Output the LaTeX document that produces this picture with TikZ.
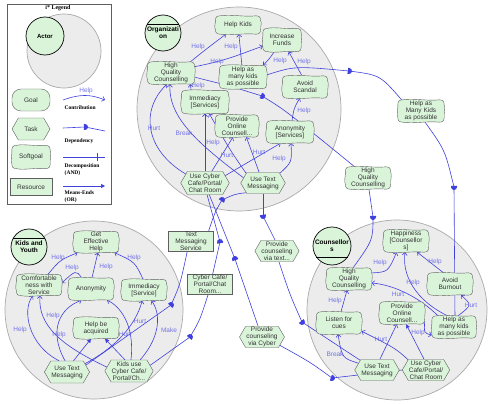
\documentclass[tikz,border=0pt]{standalone}
\usepackage{fontspec}
\setmainfont{Liberation Serif}
\setsansfont{Liberation Sans}
\usetikzlibrary{arrows.meta,shapes.symbols,calc}

\definecolor{goalfill}{RGB}{218,244,218}
\definecolor{nodeline}{RGB}{95,95,95}
\definecolor{actorfill}{RGB}{236,236,236}
\definecolor{actorline}{RGB}{170,170,170}
\definecolor{linkcol}{RGB}{64,64,222}
\definecolor{labelcol}{RGB}{115,115,232}

\pgfdeclarelayer{bound}
\pgfdeclarelayer{links}
\pgfdeclarelayer{shapes}
\pgfsetlayers{bound,links,shapes,main}

\tikzset{
  every node/.style={font=\sffamily\fontsize{6.5}{7}\selectfont, text=black!80, align=center, inner sep=0.5pt},
  boundary/.style={circle, fill=actorfill, draw=actorline, line width=0.7pt},
  actor/.style={circle, fill=goalfill, draw=black, line width=0.7pt, minimum size=#1,
    font=\sffamily\bfseries\fontsize{6.5}{7}\selectfont, text=black},
  soft/.style={rectangle, minimum width=45pt, minimum height=22pt},
  goal/.style={rectangle, rounded corners=9pt, fill=goalfill, draw=nodeline, line width=0.4pt,
    minimum width=45pt, minimum height=22pt},
  task/.style={signal, signal to=west and east, signal pointer angle=120, fill=goalfill,
    draw=nodeline, line width=0.4pt, minimum width=44pt, minimum height=22pt},
  resource/.style={rectangle, fill=goalfill, draw=nodeline, line width=0.4pt,
    minimum width=45pt, minimum height=20pt},
  legtext/.style={font=\rmfamily\bfseries\fontsize{5.5}{7}\selectfont, text=black, align=left, anchor=west},
  link/.style={draw=linkcol, line width=0.6pt},
  contrib/.style={link, -{Straight Barb[length=2.5pt,width=5pt]}},
  meansend/.style={link, -{Triangle[length=4pt,width=4pt]}},
  lbl/.style={text=labelcol},
  dmark/.pic={\fill[linkcol] (-1.2pt,-3pt) -- (0,-3pt) arc (-90:90:3pt) -- (-1.2pt,3pt) -- cycle;}
}

\begin{document}
\begin{tikzpicture}[x=1pt, y=-1pt]
\useasboundingbox (0,0) rectangle (491,404);

% actor boundaries
\begin{pgfonlayer}{bound}
  \fill[white] (0,0) rectangle (491,404);
  \draw[nodeline, line width=0.5pt] (7,4) rectangle (111,204);
  \node[boundary, minimum size=74pt] (legBound) at (64,51) {};
  \node[boundary, minimum size=204pt] (orgBound) at (239,109) {};
  \node[boundary, minimum size=178pt] (kidsBound) at (94,310) {};
  \node[boundary, minimum size=180pt] (couBound) at (397,310) {};
\end{pgfonlayer}

% legend
\node[font=\rmfamily\bfseries\fontsize{6}{7}\selectfont, text=black] (legTitle) at (58,8) {i* Legend};
\node[actor=38pt, font=\sffamily\bfseries\fontsize{6}{7}\selectfont] (legActor) at (45,36) {Actor};
\node[goal, minimum width=38pt] (legGoal) at (31,100) {Goal};
\node[task, minimum width=38pt] (legTask) at (31,129) {Task};
\node[soft, minimum width=38pt, minimum height=23pt] (legSoft) at (31,157) {Softgoal};
\node[resource, minimum width=42pt, minimum height=17pt] (legRes) at (31,187) {Resource};
\node[legtext] (legContrib) at (64,108) {Contribution};
\node[legtext] (legDep) at (64,141) {Dependency};
\node[legtext] (legDecomp) at (64,170) {Decomposition\\(AND)};
\node[legtext] (legMeans) at (64,197) {Means-Ends\\(OR)};

% organization
\node[actor=36pt] (orgActor) at (163,33) {Organizati\\on};
\draw[black, line width=0.6pt] (orgActor.150) -- (orgActor.30);
\node[soft, minimum height=18pt] (orgKids) at (238,25) {Help Kids};
\node[soft, minimum width=38pt, minimum height=23pt] (orgFunds) at (282,40) {Increase\\Funds};
\node[soft, minimum width=47pt] (orgHQC) at (171,73) {High\\Quality\\Counselling};
\node[soft, minimum width=47pt, minimum height=23pt] (orgMany) at (243,77) {Help as\\many kids\\as possible};
\node[soft] (orgScandal) at (305,87) {Avoid\\Scandal};
\node[soft, minimum width=47pt, minimum height=23pt] (orgImm) at (205,102) {Immediacy\\{[Services]}};
\node[soft, minimum width=43pt] (orgOnline) at (237,126) {Provide\\Online\\Counsell...};
\node[soft, minimum width=47pt] (orgAnon) at (290,132) {Anonymity\\{[Services]}};
\node[task, minimum height=23pt] (orgCyber) at (205,183) {Use Cyber\\Cafe/Portal/\\Chat Room};
\node[task, minimum width=43pt, minimum height=21pt] (orgText) at (263,183) {Use Text\\Messaging};

% dependums
\node[soft, minimum width=46pt] (extMany) at (421,111) {Help as\\Many Kids\\as possible};
\node[soft] (extHQC) at (368,178) {High\\Quality\\Counselling};
\node[resource] (resText) at (191,241) {Text\\Messaging\\Service};
\node[resource] (resCyber) at (210,284) {Cyber Cafe/\\Portal/Chat\\Room...};
\node[task, minimum height=21pt] (tskViaText) at (277,251) {Provide\\counseling\\via text...};
\node[task, minimum width=45pt, minimum height=21pt] (tskViaCyber) at (262,337) {Provide\\counseling\\via Cyber};

% kids and youth
\node[actor=36pt] (kidsActor) at (29,247) {Kids and\\Youth};
\draw[black, line width=0.6pt] (kidsActor.150) -- (kidsActor.30);
\node[soft, minimum height=21pt] (kidsGet) at (96,242) {Get\\Effective\\Help};
\node[soft, minimum height=21pt] (kidsComfort) at (39,285) {Comfortable\\ness with\\Service};
\node[soft] (kidsAnon) at (91,289) {Anonymity};
\node[soft, minimum height=21pt] (kidsImm) at (144,290) {Immediacy\\{[Service]}};
\node[soft, minimum height=21pt] (kidsAcq) at (96,328) {Help be\\acquired};
\node[task, minimum width=45pt] (kidsText) at (67,372) {Use Text\\Messaging};
\node[task] (kidsCyber) at (129,371) {Kids use\\Cyber Cafe/\\Portal/Ch...};

% counsellors
\node[actor=38pt] (couActor) at (332,246) {Counsellor\\s};
\draw[black, line width=0.6pt] (couActor.-145) -- (couActor.-35);
\node[soft] (couHappy) at (406,241) {Happiness\\{[Counsellor}\\s]};
\node[soft] (couHQC) at (349,279) {High\\Quality\\Counselling};
\node[soft] (couBurn) at (450,284) {Avoid\\Burnout};
\node[soft] (couOnline) at (402,313) {Provide\\Online\\Counsell...};
\node[soft] (couCues) at (339,323) {Listen for\\cues};
\node[soft, minimum width=44pt] (couMany) at (454,327) {Help as\\many kids\\as possible};
\node[task, minimum width=43pt, minimum height=21pt] (couText) at (377,370) {Use Text\\Messaging};
\node[task, minimum width=43pt, minimum height=21pt] (couCyber) at (426,370) {Use Cyber\\Cafe/Portal/\\Chat Room};

% softgoal outlines
\begin{pgfonlayer}{shapes}
\foreach \n in {legSoft,orgKids,orgFunds,orgHQC,orgMany,orgScandal,orgImm,orgOnline,orgAnon,
    extMany,extHQC,kidsGet,kidsComfort,kidsAnon,kidsImm,kidsAcq,
    couHappy,couHQC,couBurn,couOnline,couCues,couMany}
  \draw[nodeline, fill=goalfill, line width=0.4pt]
    ($(\n.north west)+(0,-5pt)$)
    .. controls ($(\n.north west)+(0,-1.5pt)$) and ($(\n.north west)+(1.5pt,0)$) .. ($(\n.north west)+(5pt,0)$)
    .. controls ($(\n.north)+(-8pt,1.8pt)$) and ($(\n.north)+(8pt,-1.5pt)$) .. ($(\n.north east)+(-5pt,0)$)
    .. controls ($(\n.north east)+(-1.5pt,0)$) and ($(\n.north east)+(0,-1.5pt)$) .. ($(\n.north east)+(0,-5pt)$)
    .. controls ($(\n.east)+(1.5pt,2.5pt)$) and ($(\n.east)+(-0.5pt,-2.5pt)$) .. ($(\n.south east)+(0,5pt)$)
    .. controls ($(\n.south east)+(0,1.5pt)$) and ($(\n.south east)+(-1.5pt,0)$) .. ($(\n.south east)+(-5pt,0)$)
    .. controls ($(\n.south)+(8pt,1.5pt)$) and ($(\n.south)+(-8pt,-1.8pt)$) .. ($(\n.south west)+(5pt,0)$)
    .. controls ($(\n.south west)+(1.5pt,0)$) and ($(\n.south west)+(0,1.5pt)$) .. ($(\n.south west)+(0,5pt)$)
    .. controls ($(\n.west)+(-1.5pt,-2.5pt)$) and ($(\n.west)+(0.5pt,2.5pt)$) .. cycle;
\end{pgfonlayer}

% dependency points
\coordinate (dA) at (349,71);
\coordinate (dB) at (262,96);
\coordinate (dC) at (373,217);
\coordinate (dD) at (454,187);
\coordinate (dE) at (222,200);
\coordinate (dK) at (171,305);
\coordinate (dL) at (220,242);
\coordinate (dJ) at (190,337);
\coordinate (dF) at (263,216);
\coordinate (dG) at (302,322);
\coordinate (dH) at (235,259);
\coordinate (dI) at (332,378);

\begin{pgfonlayer}{links}
% legend samples
\coordinate (lgA) at (63,100); \coordinate (lgB) at (105,100);
\draw[contrib] (lgA) .. controls (80,94) and (90,94) .. (lgB) node[lbl] at (86,91) {Help};
\coordinate (lgC) at (63,128); \coordinate (lgD) at (85,127); \coordinate (lgE) at (105,131);
\draw[link] (lgC) -- (lgD) -- (lgE);
\pic at (lgD) {dmark};
\coordinate (lgF) at (63,157); \coordinate (lgG) at (105,157);
\draw[link] (lgF) -- (lgG) ($(lgG)+(-8,-4)$) -- ($(lgG)+(-8,4)$);
\coordinate (lgH) at (63,186); \coordinate (lgI) at (105,186);
\draw[meansend] (lgH) -- (lgI);

% organization links
\draw[contrib] (orgHQC.30) .. controls (205,50) .. (orgKids) node[lbl] at (198,47) {Help};
\draw[contrib] (orgMany) -- (orgKids) node[lbl] at (231,47) {Help};
\draw[contrib] (orgHQC.15) .. controls (230,60) and (245,52) .. (orgFunds) node[lbl] at (217,62) {Help};
\draw[contrib] (orgFunds) .. controls (270,58) .. (orgMany.30) node[lbl] at (280,61) {Help};
\draw[contrib] (orgImm.140) -- (orgHQC.-30) node[lbl] at (198,86) {Help};
\draw[contrib] (orgAnon.80) .. controls (294,108) .. (orgScandal.-115) node[lbl] at (304,111) {Help};
\draw[contrib] (orgScandal.105) -- (orgFunds.-60) node[lbl] at (304,62) {Help};
\draw[contrib] (orgCyber.155) .. controls (145,150) and (140,110) .. (orgHQC.-110) node[lbl] at (154,128) {Hurt};
\draw[contrib] (orgText.165) .. controls (200,145) and (168,118) .. (orgHQC.-95) node[lbl] at (184,133) {Break};
\draw[contrib] (orgCyber.north) -- (orgImm.south) node[lbl] at (213,143) {Help};
\draw[contrib] (orgText.150) .. controls (230,150) .. (orgImm.-70);
\draw[contrib] (orgCyber.60) -- (orgOnline.-110) node[lbl] at (227,155) {Hurt};
\draw[contrib] (orgText.110) -- (orgOnline.-50) node[lbl] at (259,152) {Hurt};
\draw[contrib] (orgText.30) .. controls (292,162) .. (orgAnon.-85) node[lbl] at (279,159) {Help};
\draw[contrib] (orgCyber.20) -- (orgAnon.-130);

% kids links
\draw[contrib] (kidsComfort.50) .. controls (60,260) .. (kidsGet.-150) node[lbl] at (58,258) {Help};
\draw[contrib] (kidsAnon.130) .. controls (76,270) .. (kidsComfort.5) node[lbl] at (72,268) {Help};
\draw[contrib] (kidsAnon.85) -- (kidsGet.-80) node[lbl] at (106,267) {Help};
\draw[contrib] (kidsImm.95) .. controls (135,262) .. (kidsGet.-30) node[lbl] at (134,258) {Help};
\draw[contrib] (kidsText.125) .. controls (28,345) and (22,310) .. (kidsComfort.-120) node[lbl] at (20,330) {Help};
\draw[contrib] (kidsCyber.170) .. controls (60,345) and (38,325) .. (kidsComfort.-85) node[lbl] at (53,316) {Help};
\draw[contrib] (kidsText.100) .. controls (48,330) and (60,308) .. (kidsAnon.-130) node[lbl] at (59,335) {Help};
\draw[meansend] (kidsText.60) -- (kidsAcq.-115);
\draw[meansend] (kidsCyber.110) -- (kidsAcq.-50);
\draw[contrib] (kidsCyber.80) .. controls (135,325) and (120,306) .. (kidsAnon.-35) node[lbl] at (140,321) {Hurt};
\draw[contrib] (kidsText.25) .. controls (115,348) and (136,325) .. (kidsImm.-100) node[lbl] at (125,334) {Hurt};
\draw[contrib] (kidsCyber.45) .. controls (162,335) and (160,312) .. (kidsImm.-55) node[lbl] at (169,330) {Make};

% counsellors links
\draw[contrib] (couHQC.15) .. controls (388,272) .. (couHappy.-130) node[lbl] at (380,263) {Help};
\draw[contrib] (couBurn.120) -- (couHappy.-45) node[lbl] at (435,262) {Help};
\draw[contrib] (couMany.120) .. controls (415,300) and (402,275) .. (couHappy.-95) node[lbl] at (413,283) {Help};
\draw[contrib] (couMany.145) .. controls (420,298) and (395,285) .. (couHQC.-10) node[lbl] at (398,294) {Hurt};
\draw[contrib] (couMany.70) .. controls (472,305) .. (couBurn.-45) node[lbl] at (471,305) {Hurt};
\draw[contrib] (couOnline.-20) .. controls (424,333) .. (couMany.-160) node[lbl] at (418,333) {Help};
\draw[contrib] (couCues.80) -- (couHQC.-100) node[lbl] at (335,301) {Help};
\draw[contrib] (couText.160) .. controls (342,358) .. (couCues.-95) node[lbl] at (335,354) {Break};
\draw[contrib] (couText.75) -- (couOnline.-115) node[lbl] at (381,339) {Hurt};
\draw[meansend] (couCyber.100) -- (couOnline.-70);
\draw[contrib] (couCyber.150) .. controls (395,348) .. (couCues.-20);

% dependencies
\draw[link] (orgMany.5) .. controls (295,66) .. (dA);
\draw[link] (dA) .. controls (380,75) .. (extMany.150);
\draw[link] (orgHQC.-10) .. controls (230,86) .. (dB);
\draw[link] (dB) .. controls (285,110) .. (extHQC.140);
\draw[link] (extHQC.-85) -- (dC);
\draw[link] (dC) .. controls (373,240) .. (couHQC.70);
\draw[link] (extMany.-70) .. controls (445,150) .. (dD);
\draw[link] (dD) -- (couMany.85);
\draw[link] (orgText.-150) .. controls (235,194) .. (dE);
\draw[link] (dE) .. controls (215,212) .. (resText.30);
\draw[link] (resText.-110) .. controls (180,285) .. (dK);
\draw[link] (dK) -- (kidsText.20);
\draw[link] (orgCyber.-80) -- (dL);
\draw[link] (dL) -- (resCyber.75);
\draw[link] (resCyber.-100) .. controls (200,320) .. (dJ);
\draw[link] (dJ) -- (kidsCyber.15);
\draw[link] (orgText.-90) -- (dF);
\draw[link] (dF) -- (tskViaText.100);
\draw[link] (tskViaText.-80) .. controls (290,295) .. (dG);
\draw[link] (dG) -- (couText.150);
\draw[link] (orgCyber.-70) -- (dH);
\draw[link] (dH) -- (tskViaCyber.110);
\draw[link] (tskViaCyber.-25) .. controls (310,362) .. (dI);
\draw[link] (dI) -- (couCyber.west);

\pic[rotate=-8] at (dA) {dmark};
\pic[rotate=-25] at (dB) {dmark};
\pic[rotate=-90] at (dC) {dmark};
\pic[rotate=-90] at (dD) {dmark};
\pic[rotate=55] at (dE) {dmark};
\pic[rotate=45] at (dK) {dmark};
\pic[rotate=100] at (dL) {dmark};
\pic[rotate=50] at (dJ) {dmark};
\pic[rotate=-80] at (dF) {dmark};
\pic[rotate=-50] at (dG) {dmark};
\pic[rotate=110] at (dH) {dmark};
\pic[rotate=-20] at (dI) {dmark};
\end{pgfonlayer}
\end{tikzpicture}
\end{document}
